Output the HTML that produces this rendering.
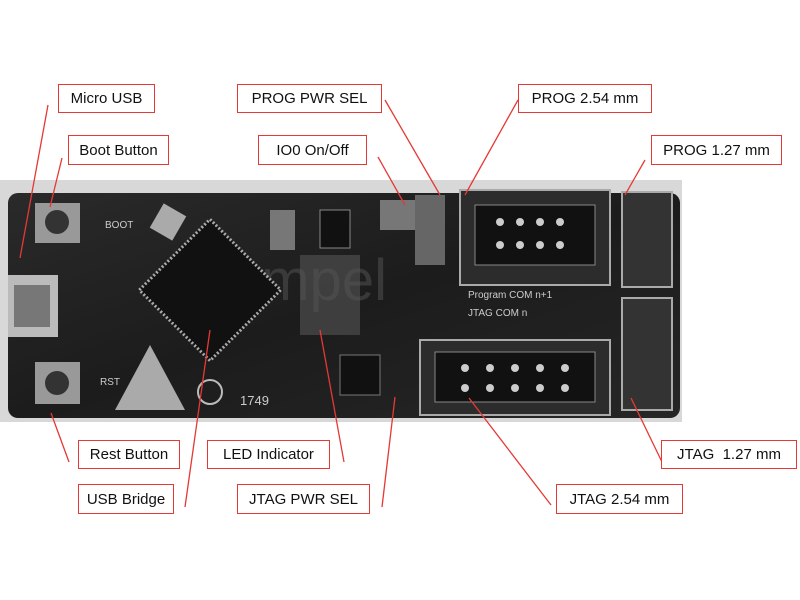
<!DOCTYPE html>
<html><head><style>
body{margin:0;width:800px;height:600px;background:#fff;position:relative;overflow:hidden;font-family:"Liberation Sans",sans-serif}
.lb{position:absolute;border:1.5px solid #e53935;background:#fff;font-size:15px;color:#111;box-sizing:border-box;display:flex;align-items:center;justify-content:center;white-space:nowrap}
svg{position:absolute;left:0;top:0}
</style></head><body>
<svg width="800" height="600">
<defs><linearGradient id="g" x1="0" y1="0" x2="1" y2="1"><stop offset="0" stop-color="#2a2a2a"/><stop offset="0.5" stop-color="#1c1c1c"/><stop offset="1" stop-color="#262626"/></linearGradient></defs>
<rect x="0" y="180" width="682" height="242" fill="#d8d8d8"/>
<rect x="8" y="193" width="672" height="225" rx="10" fill="url(#g)"/>
<text x="200" y="300" font-size="58" fill="#555" opacity="0.5" font-family="Liberation Sans">compel</text>
<rect x="8" y="275" width="50" height="62" fill="#bbb"/><rect x="14" y="285" width="36" height="42" fill="#777"/>
<rect x="35" y="203" width="45" height="40" fill="#999"/><circle cx="57" cy="222" r="12" fill="#333"/>
<rect x="35" y="362" width="45" height="42" fill="#999"/><circle cx="57" cy="383" r="12" fill="#333"/>
<text x="105" y="228" font-size="10" fill="#ccc">BOOT</text>
<text x="100" y="385" font-size="10" fill="#ccc">RST</text>
<g transform="rotate(45 210 290)"><rect x="160" y="240" width="100" height="100" fill="#111" stroke="#aaa" stroke-width="3" stroke-dasharray="2 2"/></g>
<rect x="155" y="208" width="26" height="28" fill="#aaa" transform="rotate(30 168 222)"/>
<polygon points="115,410 150,345 185,410" fill="#aaa"/>
<circle cx="210" cy="392" r="12" fill="none" stroke="#bbb" stroke-width="2"/>
<text x="240" y="405" font-size="13" fill="#ccc">1749</text>
<rect x="270" y="210" width="25" height="40" fill="#777"/>
<rect x="320" y="210" width="30" height="38" fill="#111" stroke="#888"/>
<rect x="380" y="200" width="40" height="30" fill="#777"/>
<rect x="415" y="195" width="30" height="70" fill="#666"/>
<rect x="300" y="255" width="60" height="80" fill="#555" opacity="0.6"/>
<rect x="340" y="355" width="40" height="40" fill="#111" stroke="#777"/>
<rect x="460" y="190" width="150" height="95" fill="#2c2c2c" stroke="#aaa" stroke-width="2"/>
<rect x="475" y="205" width="120" height="60" fill="#111" stroke="#888"/>
<g fill="#ccc"><circle cx="500" cy="222" r="4"/><circle cx="520" cy="222" r="4"/><circle cx="540" cy="222" r="4"/><circle cx="560" cy="222" r="4"/><circle cx="500" cy="245" r="4"/><circle cx="520" cy="245" r="4"/><circle cx="540" cy="245" r="4"/><circle cx="560" cy="245" r="4"/></g>
<text x="468" y="298" font-size="10" fill="#ccc">Program  COM n+1</text>
<text x="468" y="316" font-size="10" fill="#ccc">JTAG      COM n</text>
<rect x="420" y="340" width="190" height="75" fill="#2c2c2c" stroke="#aaa" stroke-width="2"/>
<rect x="435" y="352" width="160" height="50" fill="#111" stroke="#888"/>
<g fill="#ccc"><circle cx="465" cy="368" r="4"/><circle cx="490" cy="368" r="4"/><circle cx="515" cy="368" r="4"/><circle cx="540" cy="368" r="4"/><circle cx="565" cy="368" r="4"/><circle cx="465" cy="388" r="4"/><circle cx="490" cy="388" r="4"/><circle cx="515" cy="388" r="4"/><circle cx="540" cy="388" r="4"/><circle cx="565" cy="388" r="4"/></g>
<rect x="622" y="192" width="50" height="95" fill="#333" stroke="#aaa" stroke-width="2"/>
<rect x="622" y="298" width="50" height="112" fill="#333" stroke="#aaa" stroke-width="2"/>
<g stroke="#e53935" stroke-width="1.3">
<line x1="48" y1="105" x2="20" y2="258"/>
<line x1="62" y1="158" x2="50" y2="207"/>
<line x1="385" y1="100" x2="440" y2="195"/>
<line x1="378" y1="157" x2="405" y2="205"/>
<line x1="518" y1="100" x2="465" y2="195"/>
<line x1="645" y1="160" x2="625" y2="195"/>
<line x1="69" y1="462" x2="51" y2="413"/>
<line x1="344" y1="462" x2="320" y2="330"/>
<line x1="185" y1="507" x2="210" y2="330"/>
<line x1="382" y1="507" x2="395" y2="397"/>
<line x1="662" y1="462" x2="631" y2="398"/>
<line x1="551" y1="505" x2="469" y2="398"/>
</g>
</svg>
<div class="lb" style="left:58px;top:84px;width:97px;height:29px">Micro USB</div>
<div class="lb" style="left:68px;top:135px;width:101px;height:30px">Boot Button</div>
<div class="lb" style="left:237px;top:84px;width:145px;height:29px">PROG PWR SEL</div>
<div class="lb" style="left:258px;top:135px;width:109px;height:30px">IO0 On/Off</div>
<div class="lb" style="left:518px;top:84px;width:134px;height:29px">PROG 2.54 mm</div>
<div class="lb" style="left:651px;top:135px;width:131px;height:30px">PROG 1.27 mm</div>
<div class="lb" style="left:78px;top:440px;width:102px;height:29px">Rest Button</div>
<div class="lb" style="left:207px;top:440px;width:123px;height:29px">LED Indicator</div>
<div class="lb" style="left:78px;top:484px;width:96px;height:30px">USB Bridge</div>
<div class="lb" style="left:237px;top:484px;width:133px;height:30px">JTAG PWR SEL</div>
<div class="lb" style="left:661px;top:440px;width:136px;height:29px">JTAG&nbsp; 1.27 mm</div>
<div class="lb" style="left:556px;top:484px;width:127px;height:30px">JTAG 2.54 mm</div>
</body></html>
